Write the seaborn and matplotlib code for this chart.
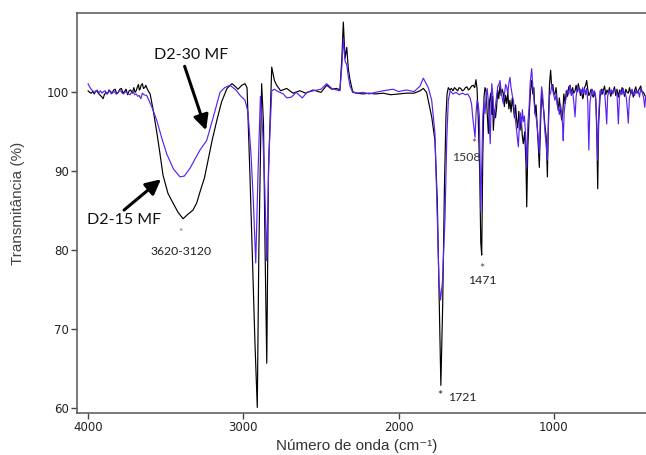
import numpy as np
import pandas as pd
import matplotlib
matplotlib.use("Agg")
import matplotlib.pyplot as plt
import seaborn as sns

# ---------------- data ----------------
# D2-15 MF (black)
wn_15 = [4000, 3990, 3980, 3970, 3960, 3950, 3940, 3930, 3920, 3910, 3903, 3895, 3885, 3875,
         3865, 3855, 3845, 3835, 3825, 3815, 3805, 3795, 3785, 3775, 3765, 3755, 3745, 3735,
         3725, 3715, 3705, 3697, 3690, 3682, 3675, 3670, 3665, 3658, 3650, 3643, 3635, 3628,
         3620, 3610, 3600, 3580, 3556, 3535, 3517, 3485, 3453, 3420, 3388, 3355, 3324, 3300,
         3279, 3250, 3227, 3200, 3170, 3140, 3105, 3073, 3055, 3034, 3010, 2989, 2976, 2957,
         2940, 2925, 2910, 2900, 2882, 2870, 2860, 2849, 2838, 2817, 2800, 2785, 2760, 2721,
         2680, 2635, 2600, 2550, 2500, 2463, 2430, 2399, 2378, 2365, 2356, 2345, 2334, 2324,
         2313, 2296, 2270, 2230, 2190, 2150, 2100, 2050, 2000, 1950, 1900, 1862, 1841, 1820,
         1809, 1787, 1766, 1751, 1740, 1728, 1716, 1705, 1695, 1688, 1680, 1670, 1660, 1650,
         1640, 1630, 1620, 1610, 1600, 1590, 1580, 1570, 1560, 1550, 1540, 1530, 1520, 1510,
         1502, 1495, 1487, 1478, 1471, 1465, 1458, 1450, 1444, 1437, 1430, 1422, 1415, 1407,
         1400, 1395, 1390, 1383, 1376, 1369, 1362, 1355, 1347, 1340, 1333, 1326, 1319, 1312,
         1304, 1297, 1290, 1283, 1276, 1268, 1261, 1254, 1247, 1240, 1233, 1226, 1218, 1211,
         1204, 1197, 1188, 1180, 1175, 1168, 1158, 1150, 1143, 1136, 1129, 1122, 1115, 1108,
         1100, 1094, 1086, 1079, 1072, 1065, 1057, 1050, 1042, 1035, 1028, 1021, 1014, 1007,
         1000, 993, 986, 979, 972, 965, 958, 950, 943, 936, 928, 920, 912, 904, 896, 888, 880,
         872, 864, 857, 850, 843, 836, 829, 822, 815, 811, 803, 796, 789, 782, 775, 768, 760,
         753, 746, 738, 730, 724, 718, 712, 703, 695, 688, 682, 674, 666, 658, 650, 642, 634,
         626, 618, 610, 602, 594, 585, 577, 569, 561, 553, 545, 537, 529, 521, 513, 505, 497,
         489, 481, 473, 465, 457, 449, 441, 433, 424, 416, 409]
t_15 = [100.2, 100.0, 99.9, 100.1, 99.8, 100.2, 100.1, 99.8, 99.6, 99.4, 99.2, 99.7, 100.0, 99.8,
        100.3, 100.1, 99.9, 100.3, 100.4, 99.8, 100.0, 100.4, 100.5, 99.9, 100.1, 100.4, 99.7, 100.2,
        100.3, 99.9, 100.6, 100.0, 100.2, 100.7, 101.0, 100.3, 100.4, 100.9, 101.1, 100.5, 100.6, 100.9,
        100.5, 100.1, 99.8, 97.7, 94.8, 92.0, 89.5, 87.2, 86.0, 84.8, 84.0, 84.6, 85.1, 86.0,
        87.4, 89.2, 91.4, 94.0, 96.5, 98.8, 100.5, 101.1, 100.8, 100.4, 100.9, 101.1, 100.6, 89.3,
        78.0, 68.2, 60.1, 80.0, 101.1, 96.0, 80.0, 65.7, 90.0, 103.2, 101.5, 100.9, 100.2, 100.5,
        99.9, 100.2, 99.9, 100.3, 100.0, 100.9, 100.4, 100.5, 100.3, 104.5, 108.9, 104.3, 105.7, 103.0,
        101.6, 100.1, 99.9, 99.8, 99.9, 99.8, 99.9, 99.7, 99.8, 99.9, 99.9, 100.2, 100.5, 100.0,
        99.0, 96.9, 93.9, 86.3, 75.0, 62.9, 73.3, 88.0, 97.0, 99.8, 100.6, 100.3, 100.5, 100.2,
        100.6, 100.4, 100.2, 100.6, 100.5, 100.2, 100.3, 100.6, 100.7, 100.3, 100.5, 100.8, 100.9, 100.6,
        101.6, 100.5, 96.5, 90.0, 81.0, 79.4, 92.0, 99.4, 100.6, 100.2, 97.5, 94.8, 98.8, 99.9,
        97.2, 99.5, 95.2, 97.8, 96.8, 98.1, 100.3, 99.2, 100.9, 99.6, 100.4, 99.9, 98.2, 99.6,
        98.6, 100.1, 97.9, 99.0, 97.5, 99.3, 98.1, 96.8, 98.4, 96.5, 95.5, 97.6, 95.2, 96.8,
        94.6, 93.5, 95.0, 91.0, 85.5, 93.0, 97.7, 100.4, 101.5, 99.8, 100.6, 97.3, 98.4, 95.8,
        93.0, 90.5, 96.0, 99.9, 98.8, 97.6, 95.6, 94.5, 89.3, 97.0, 101.2, 102.8, 100.5, 101.0,
        99.7, 99.9, 100.6, 98.9, 97.7, 99.3, 97.8, 96.5, 97.4, 99.8, 98.6, 100.2, 99.5, 100.7, 100.9, 99.8, 100.6,
        99.9, 100.2, 100.9, 100.1, 101.1, 100.4, 99.6, 100.3, 99.2, 99.4, 100.6, 100.9, 101.5, 100.4, 99.6, 99.9, 100.4,
        99.6, 99.4, 100.1, 99.0, 95.0, 87.8, 96.0, 99.4, 100.4, 99.8, 100.2, 100.8, 99.7, 100.3, 99.9, 100.6, 99.5,
        100.1, 100.2, 100.7, 99.6, 100.4, 99.4, 100.3, 99.8, 100.6, 100.2, 99.5, 100.4, 100.0, 99.9, 100.6, 99.8, 100.3,
        99.4, 100.2, 100.7, 99.9, 100.2, 100.5, 100.8, 100.1, 100.0, 99.7, 99.4]

# D2-30 MF (purple)
wn_30 = [4000, 3990, 3980, 3970, 3960, 3950, 3940, 3930, 3920, 3910, 3900, 3890, 3880, 3870,
         3860, 3850, 3840, 3830, 3820, 3810, 3800, 3790, 3780, 3770, 3760, 3750, 3740, 3730,
         3720, 3710, 3700, 3690, 3680, 3670, 3660, 3650, 3640, 3622, 3590, 3558, 3525, 3493,
         3450, 3408, 3380, 3343, 3310, 3279, 3236, 3193, 3150, 3120, 3086, 3060, 3043, 3020,
         2989, 2970, 2950, 2935, 2920, 2905, 2890, 2875, 2862, 2850, 2835, 2817, 2800, 2785,
         2765, 2743, 2720, 2690, 2660, 2620, 2590, 2550, 2500, 2463, 2430, 2399, 2378, 2365,
         2356, 2345, 2334, 2324, 2313, 2296, 2270, 2230, 2190, 2150, 2100, 2036, 2000, 1950,
         1900, 1862, 1841, 1825, 1809, 1787, 1766, 1751, 1740, 1730, 1718, 1701, 1690, 1680,
         1668, 1650, 1630, 1610, 1590, 1570, 1555, 1540, 1530, 1523, 1515, 1508, 1501, 1495,
         1488, 1480, 1471, 1462, 1458, 1451, 1444, 1437, 1430, 1423, 1416, 1410, 1404, 1400,
         1393, 1385, 1377, 1369, 1361, 1354, 1347, 1340, 1333, 1326, 1318, 1311, 1304, 1297,
         1290, 1283, 1276, 1268, 1261, 1254, 1247, 1240, 1229, 1222, 1216, 1210, 1203, 1197,
         1190, 1182, 1175, 1168, 1160, 1152, 1143, 1136, 1129, 1122, 1114, 1107, 1100, 1094,
         1086, 1079, 1072, 1065, 1057, 1050, 1042, 1035, 1028, 1021, 1014, 1007, 1000, 993,
         986, 979, 972, 965, 958, 950, 944, 940, 934, 928, 920, 912, 904, 896, 888, 880, 872,
         864, 857, 850, 843, 836, 829, 822, 815, 811, 803, 796, 789, 782, 775, 768, 760, 753,
         746, 740, 732, 724, 718, 712, 703, 695, 688, 680, 672, 666, 660, 654, 645, 638, 630,
         620, 612, 600, 593, 585, 578, 570, 562, 554, 546, 540, 533, 527, 521, 514, 505, 497,
         489, 480, 472, 465, 457, 449, 441, 430, 422, 415, 409]
t_30 = [101.1, 100.7, 100.4, 100.2, 100.0, 100.1, 100.3, 99.9, 100.2, 99.9, 100.1, 100.2, 99.8, 100.0,
        100.2, 99.8, 100.0, 100.1, 99.8, 99.9, 100.2, 100.2, 99.9, 99.8, 100.1, 100.0, 99.8, 99.7,
        100.0, 100.1, 99.7, 99.8, 99.5, 99.6, 99.2, 99.9, 99.7, 99.6, 98.2, 96.5, 94.2, 92.2,
        90.3, 89.3, 89.4, 90.4, 91.6, 92.7, 93.9, 96.9, 100.0, 100.6, 100.9, 100.5, 100.2, 99.6,
        99.0, 97.5, 92.0, 86.0, 78.4, 90.0, 99.5, 95.0, 88.0, 78.7, 92.0, 100.2, 100.4, 100.2,
        100.0, 99.8, 99.3, 99.4, 100.0, 99.3, 100.0, 100.2, 100.4, 101.1, 100.5, 100.3, 100.2, 103.5,
        106.8, 104.0, 103.5, 102.0, 100.8, 100.0, 99.9, 100.0, 99.8, 100.0, 100.2, 100.4, 100.1, 100.3,
        100.1, 100.8, 101.8, 101.2, 100.6, 99.0, 94.8, 84.2, 76.0, 73.7, 76.0, 84.2, 94.0, 99.0,
        100.2, 99.8, 100.0, 99.7, 99.9, 99.7, 99.8, 99.3, 98.5, 96.9, 95.5, 94.3, 97.5, 99.0,
        98.6, 97.0, 85.0, 93.0, 97.0, 98.8, 97.3, 99.2, 100.5, 99.0, 96.0, 93.5, 99.0, 101.1,
        99.6, 96.5, 98.2, 99.5, 100.8, 101.0, 101.5, 100.2, 99.3, 98.6, 99.8, 101.0, 100.7, 99.8,
        101.2, 101.9, 100.6, 99.6, 99.0, 97.5, 96.4, 95.2, 93.1, 96.2, 97.4, 95.6, 97.8, 96.3,
        97.0, 94.5, 90.5, 96.0, 98.0, 101.4, 103.0, 100.8, 99.2, 97.3, 96.8, 95.5, 94.0, 92.3,
        98.0, 100.7, 99.6, 97.2, 94.8, 93.5, 91.4, 96.0, 99.6, 99.9, 101.0, 100.2, 99.6, 99.0,
        99.8, 98.4, 98.1, 97.2, 98.5, 97.5, 95.8, 93.9, 97.5, 98.6, 99.5, 100.3, 99.8, 100.9, 99.6, 100.2, 98.8,
        96.9, 99.4, 100.5, 100.7, 100.0, 100.4, 99.8, 100.6, 99.9, 100.5, 99.7, 100.5, 98.8, 92.7, 98.6, 99.9, 100.4,
        99.7, 100.2, 99.6, 96.0, 91.4, 97.0, 100.2, 99.7, 100.4, 100.0, 99.6, 98.0, 96.0, 99.5, 100.2, 99.8, 100.3,
        99.8, 100.4, 100.2, 99.5, 96.0, 99.4, 100.2, 99.7, 100.5, 99.8, 99.9, 99.2, 97.8, 96.1, 99.3, 99.9, 100.4,
        99.8, 99.6, 100.3, 99.9, 100.2, 99.4, 100.5, 99.9, 99.3, 98.1, 99.5]

series_names = ["D2-15 MF", "D2-30 MF"]
series_colors = ["#000000", "#5a22f0"]
x_ticks = [4000, 3000, 2000, 1000]
y_ticks = [60, 70, 80, 90, 100]

peak_marks = ["3620-3120", "1508", "1471", "1721"]

# ---------------- figure ----------------
sns.set_style("ticks")
plt.rcParams["font.family"] = ["DejaVu Sans"]

df = pd.concat([
    pd.DataFrame({"wn": wn_15, "T": t_15, "amostra": series_names[0]}),
    pd.DataFrame({"wn": wn_30, "T": t_30, "amostra": series_names[1]}),
], ignore_index=True)

fig = plt.figure(figsize=(6.46, 4.55), dpi=100)
ax = fig.add_axes([77 / 646, 1 - 413 / 455, 1 - 77 / 646, (413 - 13) / 455])

sns.lineplot(data=df, x="wn", y="T", hue="amostra", hue_order=series_names,
             palette=dict(zip(series_names, series_colors)), estimator=None,
             sort=True, linewidth=0.85, legend=False, ax=ax)

ax.set_xlim(4071, 407)
ax.set_ylim(59.4, 110.05)
ax.set_xticks(x_ticks)
ax.set_yticks(y_ticks)
ax.set_xlabel("")
ax.set_ylabel("")
ax.tick_params(axis="both", direction="out", length=4, width=1.0, color="#444444",
               labelsize=8.5, labelcolor="#222222", pad=2)
for s in ["left", "bottom", "top"]:
    ax.spines[s].set_visible(True)
    ax.spines[s].set_color("#555555")
    ax.spines[s].set_linewidth(1.1)
ax.spines["right"].set_visible(False)

# axis labels
fig.text(18 / 646, 1 - 203 / 455, "Transmitância (%)", rotation=90, ha="center", va="center",
         fontsize=11, color="#444444", family=["Liberation Sans", "DejaVu Sans"])
fig.text(357 / 646, 1 - 446 / 455, "Número de onda (cm\u207b\u00b9)", ha="center", va="center",
         fontsize=11, color="#333333", family=["Liberation Sans", "DejaVu Sans"])

lab_font = dict(family=["Lato", "DejaVu Sans"])

# series labels with arrows
ax.text(3337, 104.7, series_names[1], ha="center", va="center", fontsize=11.5, color="#111111", **lab_font)
ax.text(3768, 83.8, series_names[0], ha="center", va="center", fontsize=11.5, color="#111111", **lab_font)
arrow_kw = dict(arrowstyle="-|>,head_length=0.9,head_width=0.45", color="black", lw=2.2,
                shrinkA=0, shrinkB=0)
ax.annotate("", xy=(3240, 95.2), xytext=(3378, 103.3), arrowprops=arrow_kw)
ax.annotate("", xy=(3530, 89.0), xytext=(3768, 85.1), arrowprops=arrow_kw)

# peak annotations
star_col = "#6b4a32"
ax.text(3408, 82.2, "*", ha="center", va="center", fontsize=7, color="#666666", **lab_font)
ax.text(3401, 79.9, peak_marks[0], ha="center", va="center", fontsize=8.8, color="#222222", **lab_font)
ax.text(1514, 93.4, "*", ha="center", va="center", fontsize=9, color=star_col, **lab_font)
ax.text(1566, 91.8, peak_marks[1], ha="center", va="center", fontsize=8.8, color="#333333", **lab_font)
ax.text(1463, 77.6, "*", ha="center", va="center", fontsize=9, color=star_col, **lab_font)
ax.text(1459, 76.2, peak_marks[2], ha="center", va="center", fontsize=8.8, color="#222222", **lab_font)
ax.text(1733, 61.5, "*", ha="center", va="center", fontsize=9, color="#222222", **lab_font)
ax.text(1589, 61.4, peak_marks[3], ha="center", va="center", fontsize=8.8, color="#222222", **lab_font)

fig.savefig("out.png", dpi=100)
